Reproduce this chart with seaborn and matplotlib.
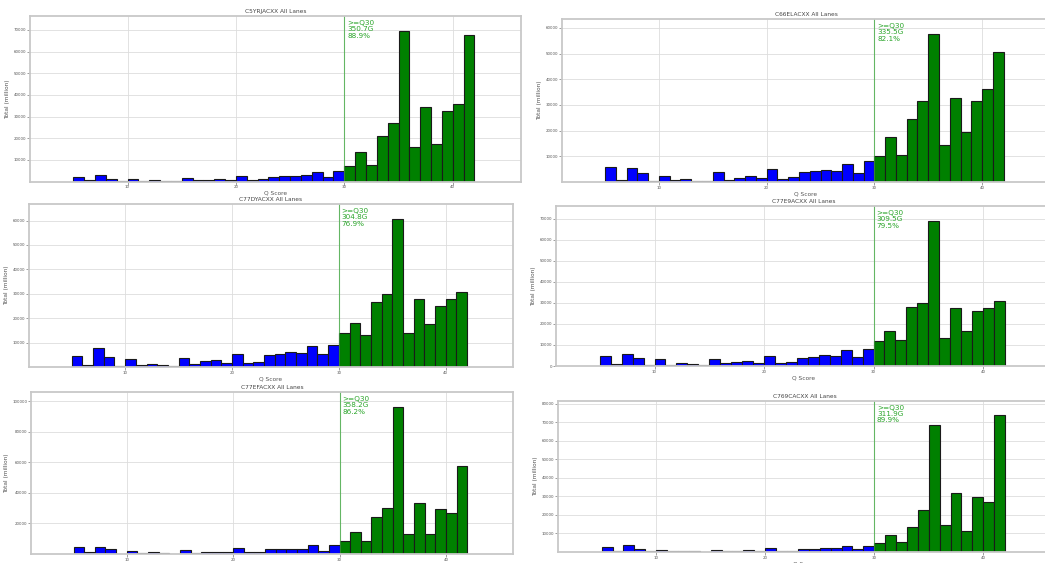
import numpy as np
import pandas as pd
import matplotlib
matplotlib.use("Agg")
import matplotlib.pyplot as plt
import seaborn as sns

# Q score bins (one bar per integer score, 5..41)
q_scores = list(range(5, 42))

# Total yield per Q score (million bases), one list per flowcell
c5yrj = [2100, 500, 2900, 1300, 100, 1200, 300, 500, 400, 100, 1800, 500, 800, 1300, 800,
         2700, 500, 1200, 2100, 2700, 2700, 3000, 4300, 2100, 5000,
         7200, 13400, 7700, 21200, 26900, 69500, 15900, 34600, 17100, 32600, 35700, 67800]
c66el = [6000, 650, 5300, 3500, 300, 2500, 650, 1000, 500, 250, 3800, 800, 1600, 2500, 1400,
         5200, 1000, 1800, 3800, 4400, 4700, 4400, 6900, 3400, 8100,
         10000, 17400, 10700, 24700, 31500, 57700, 14500, 32700, 19400, 31500, 36200, 50600]
c77dy = [4600, 900, 7700, 3900, 500, 3200, 900, 1400, 900, 350, 3600, 1300, 2400, 2900, 1700,
         5400, 1600, 2100, 4800, 5200, 6000, 5900, 8800, 5400, 9000,
         13800, 18200, 13000, 26600, 29700, 60700, 13800, 27800, 17500, 24900, 28000, 30900]
c77e9 = [4900, 1000, 5900, 3700, 400, 3400, 700, 1300, 800, 350, 3400, 1300, 2100, 2600, 1500,
         4800, 1300, 1800, 4000, 4500, 5300, 4800, 7500, 4300, 7900,
         11900, 16800, 12400, 28000, 29800, 69100, 13500, 27700, 16600, 26000, 27700, 30700]
c77ef = [4500, 1000, 4500, 3000, 300, 1900, 500, 1000, 500, 300, 2700, 800, 1200, 1600, 1000,
         4000, 1000, 1400, 3000, 3400, 3400, 3400, 5600, 2100, 6200,
         8200, 14500, 8200, 24400, 30300, 96500, 13400, 33600, 13200, 29400, 27000, 57800]
c769c = [2500, 700, 3900, 1700, 300, 1200, 500, 700, 500, 100, 1200, 500, 800, 1000, 700,
         2100, 700, 800, 1600, 1700, 2100, 2100, 3000, 1400, 3500,
         4800, 9100, 5300, 13600, 22700, 68300, 14300, 31700, 11400, 29700, 27200, 74000]

titles = ["C5YRJACXX All Lanes", "C66ELACXX All Lanes", "C77DYACXX All Lanes",
          "C77E9ACXX All Lanes", "C77EFACXX All Lanes", "C769CACXX All Lanes"]
series = [c5yrj, c66el, c77dy, c77e9, c77ef, c769c]
q30_yield = ["350.7G", "335.5G", "304.8G", "309.5G", "358.2G", "311.9G"]
q30_pct = ["88.9%", "82.1%", "76.9%", "79.5%", "86.2%", "89.9%"]
ytick_step = [10000, 10000, 10000, 10000, 20000, 10000]
show_zero = [False, False, False, True, False, False]

# Panel boxes in pixels: left, right, top, bottom
W, H = 1045, 563
boxes = [(30, 521, 16, 181.5), (562, 1050, 19, 182),
         (29, 513, 204, 367), (556, 1052, 206, 366),
         (31, 513, 392, 554), (558, 1052, 401, 552)]

sns.set_theme(style="whitegrid")
plt.rcParams["font.family"] = ["DejaVu Sans"]

fig = plt.figure(figsize=(W / 100, H / 100), dpi=100)
fig.patch.set_facecolor("white")

for i, (title, vals) in enumerate(zip(titles, series)):
    l, r, t, b = boxes[i]
    ax = fig.add_axes([l / W, 1 - b / H, (r - l) / W, (b - t) / H])
    df = pd.DataFrame({"q": q_scores, "total": vals})
    lo = df[df["q"] < 30]
    hi = df[df["q"] >= 30]
    # Bars below Q30 in blue, Q30 and above in green
    sns.histplot(data=lo, x="q", weights="total", binwidth=1, binrange=(5, 30),
                 color="#0000ff", alpha=1, edgecolor="#1a1a1a", linewidth=0.8, ax=ax)
    sns.histplot(data=hi, x="q", weights="total", binwidth=1, binrange=(30, 42),
                 color="#008000", alpha=1, edgecolor="#1a1a1a", linewidth=0.8, ax=ax)
    ymax = max(vals) * 1.1
    ax.set_xlim(1, 46.3)
    ax.set_ylim(0, ymax)
    step = ytick_step[i]
    start = 0 if show_zero[i] else step
    ax.set_yticks(np.arange(start, ymax, step))
    ax.set_xticks([10, 20, 30, 40])
    ax.tick_params(axis="both", labelsize=2.9, colors="#555555", length=2, width=0.4, pad=0.8)
    ax.tick_params(axis="both", left=True, bottom=True)
    ax.grid(True, color="#dddddd", linewidth=0.6)
    ax.set_axisbelow(True)
    for s in ax.spines.values():
        s.set_color("#c8c8c8")
        s.set_linewidth(1.3)
    ax.axvline(30, color="#3aa83a", linewidth=0.8, alpha=0.75)
    ax.text(30.25, ymax * 0.975, ">=Q30\n" + q30_yield[i] + "\n" + q30_pct[i],
            color="#2aa52a", fontsize=5.2, va="top", ha="left", linespacing=1.05)
    ax.set_title(title, fontsize=4.2, color="#444444", pad=2.5)
    ax.set_xlabel("Q Score", fontsize=4.2, color="#555555", labelpad=1)
    ax.set_ylabel("Total (million)", fontsize=4.2, color="#555555", labelpad=2.5)

fig.savefig("out.png", dpi=100, facecolor="white")
